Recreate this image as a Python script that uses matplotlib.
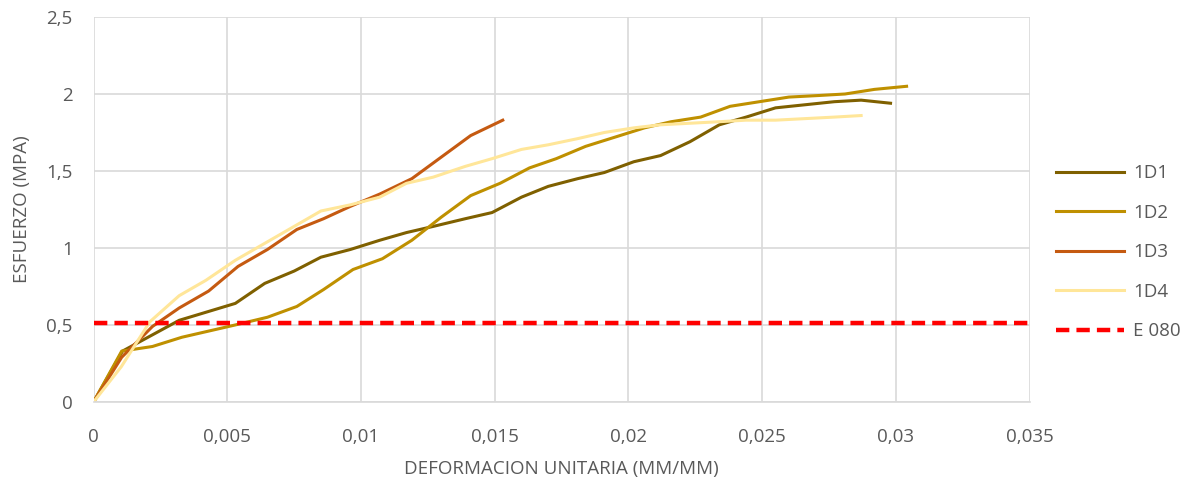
import matplotlib
matplotlib.use("Agg")
import matplotlib.pyplot as plt
from matplotlib.ticker import FuncFormatter

x1 = [0, 0.00108, 0.0032, 0.0053, 0.0064, 0.0075, 0.0085, 0.0096, 0.0107, 0.0117, 0.0127, 0.0139, 0.0149, 0.016, 0.017, 0.0181, 0.0191, 0.0202, 0.0212, 0.0223, 0.0234, 0.0244, 0.0255, 0.0266, 0.0277, 0.0287, 0.0298]
y1 = [0, 0.33, 0.53, 0.64, 0.77, 0.85, 0.94, 0.99, 1.05, 1.10, 1.14, 1.19, 1.23, 1.33, 1.40, 1.45, 1.49, 1.56, 1.60, 1.69, 1.80, 1.85, 1.91, 1.93, 1.95, 1.96, 1.94]

x2 = [0, 0.00105, 0.0022, 0.0033, 0.0043, 0.0053, 0.0065, 0.0076, 0.0086, 0.0097, 0.0108, 0.0119, 0.013, 0.0141, 0.0152, 0.0163, 0.0173, 0.0184, 0.0195, 0.0206, 0.0216, 0.0227, 0.0238, 0.0249, 0.026, 0.0271, 0.0281, 0.0292, 0.0304]
y2 = [0, 0.33, 0.36, 0.42, 0.46, 0.50, 0.55, 0.62, 0.73, 0.86, 0.93, 1.05, 1.20, 1.34, 1.42, 1.52, 1.58, 1.66, 1.72, 1.78, 1.82, 1.85, 1.92, 1.95, 1.98, 1.99, 2.00, 2.03, 2.05]

x3 = [0, 0.00105, 0.0022, 0.0032, 0.0043, 0.0054, 0.0065, 0.0076, 0.0086, 0.0096, 0.0107, 0.0119, 0.013, 0.0141, 0.0153]
y3 = [0, 0.29, 0.49, 0.61, 0.72, 0.88, 0.99, 1.12, 1.19, 1.27, 1.35, 1.45, 1.59, 1.73, 1.83]

x4 = [0, 0.00104, 0.0021, 0.0032, 0.0042, 0.0053, 0.0063, 0.0074, 0.0085, 0.0096, 0.0107, 0.0117, 0.0127, 0.0139, 0.0149, 0.016, 0.017, 0.0181, 0.0191, 0.0202, 0.0212, 0.0223, 0.0234, 0.0244, 0.0255, 0.0266, 0.0277, 0.0287]
y4 = [0, 0.23, 0.52, 0.69, 0.79, 0.92, 1.02, 1.13, 1.24, 1.28, 1.33, 1.42, 1.46, 1.53, 1.58, 1.64, 1.67, 1.71, 1.75, 1.78, 1.80, 1.81, 1.82, 1.83, 1.83, 1.84, 1.85, 1.86]

e080_x = [0, 0.035]
e080_y = [0.51, 0.51]

labels = ["1D1", "1D2", "1D3", "1D4", "E 080"]
colors = ["#7F6000", "#BF9000", "#C55A11", "#FFE699", "#FF0000"]

plt.rcParams['font.family'] = ['Open Sans', 'DejaVu Sans']
txt = "#595959"

fig = plt.figure(figsize=(12, 4.86), dpi=100)
ax = fig.add_axes([0.078, 0.173, 0.780, 0.792])

for xs, ys, lab, c in zip([x1, x2, x3, x4], [y1, y2, y3, y4], labels[:4], colors[:4]):
    ax.plot(xs, ys, color=c, lw=2.2, label=lab, solid_joinstyle='round')
ax.plot(e080_x, e080_y, color=colors[4], lw=3.2, ls=(0, (3, 1.6)), label=labels[4])

ax.set_xlim(0, 0.035)
ax.set_ylim(0, 2.5)
ax.set_xticks([0, 0.005, 0.01, 0.015, 0.02, 0.025, 0.03, 0.035])
ax.set_yticks([0, 0.5, 1, 1.5, 2, 2.5])

def fmt(v, pos):
    s = ("%.3f" % v).rstrip('0').rstrip('.')
    return s.replace('.', ',')
ax.xaxis.set_major_formatter(FuncFormatter(fmt))
ax.yaxis.set_major_formatter(FuncFormatter(fmt))

ax.grid(True, color="#D9D9D9", lw=1.2)
ax.set_axisbelow(True)
for s in ["top", "right", "left"]:
    ax.spines[s].set_visible(False)
ax.spines["bottom"].set_color("#D9D9D9")
ax.spines["bottom"].set_linewidth(1.2)
ax.tick_params(axis='x', length=0, colors=txt, labelsize=13.5, pad=19)
ax.tick_params(axis='y', length=0, colors=txt, labelsize=13.5, pad=15)

ax.set_xlabel("DEFORMACION UNITARIA (MM/MM)", color=txt, fontsize=13.5, labelpad=10)
ax.set_ylabel("ESFUERZO (MPA)", color=txt, fontsize=13.5, labelpad=11)

leg = fig.legend(loc="center left", bbox_to_anchor=(0.866, 0.481), frameon=False,
                 fontsize=13.5, handlelength=3.6, labelspacing=1.15, handletextpad=0.5)
for t in leg.get_texts():
    t.set_color(txt)

fig.savefig("out.png", dpi=100)
